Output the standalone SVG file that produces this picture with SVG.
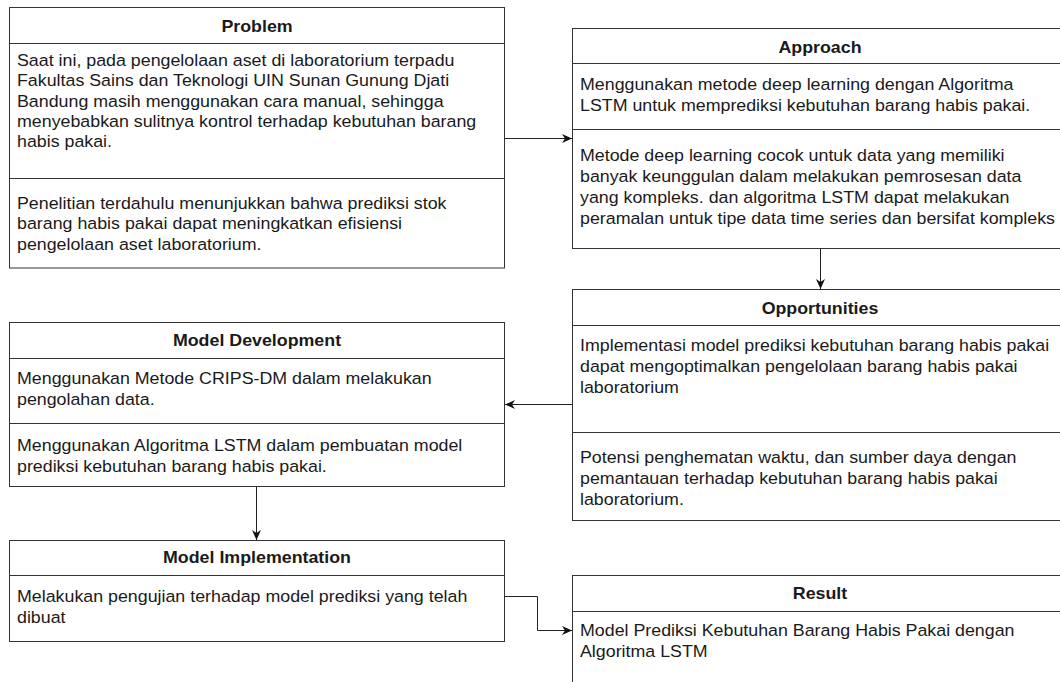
<svg xmlns="http://www.w3.org/2000/svg" width="1060" height="682" viewBox="0 0 1060 682">
<defs>
<style>
.box{fill:#fff;stroke:#333;stroke-width:1}
.div{stroke:#333;stroke-width:1;fill:none}
.t{font-family:"Liberation Sans",Arial,sans-serif;font-size:16.5px;fill:#1a1a1a}
.h{font-family:"Liberation Sans",Arial,sans-serif;font-size:16.5px;font-weight:bold;fill:#1a1a1a;text-anchor:middle}
.c{stroke:#222;stroke-width:1;fill:none;marker-end:url(#arr)}
</style>
<marker id="arr" viewBox="0 0 10 10" refX="10" refY="5" markerWidth="10" markerHeight="10" markerUnits="userSpaceOnUse" orient="auto">
<path d="M0,0.5 L10,5 L0,9.5 L3,5 Z" fill="#111"/>
</marker>
</defs>
<rect width="1060" height="682" fill="#fff"/>

<g id="problem">
<rect class="box" x="9.5" y="7.5" width="495" height="260.5"/>
<path class="div" d="M9.5,43.5H504.5M9.5,178.5H504.5"/>
<g transform="translate(257,0) scale(1.08,1)"><text class="h" x="0" y="32">Problem</text></g>
<g transform="translate(17,0) scale(1.08,1)"><text class="t">
<tspan x="0" y="66">Saat ini, pada pengelolaan aset di laboratorium terpadu</tspan>
<tspan x="0" y="86.3">Fakultas Sains dan Teknologi UIN Sunan Gunung Djati</tspan>
<tspan x="0" y="106.6">Bandung masih menggunakan cara manual, sehingga</tspan>
<tspan x="0" y="127">menyebabkan sulitnya kontrol terhadap kebutuhan barang</tspan>
<tspan x="0" y="147.3">habis pakai.</tspan>
<tspan x="0" y="209">Penelitian terdahulu menunjukkan bahwa prediksi stok</tspan>
<tspan x="0" y="229.3">barang habis pakai dapat meningkatkan efisiensi</tspan>
<tspan x="0" y="249.6">pengelolaan aset laboratorium.</tspan>
</text></g>
</g>

<g id="approach">
<rect class="box" x="572.5" y="28.5" width="495" height="220"/>
<path class="div" d="M572.5,63.5H1067.5M572.5,129.5H1067.5"/>
<g transform="translate(820,0) scale(1.08,1)"><text class="h" x="0" y="53">Approach</text></g>
<g transform="translate(580,0) scale(1.08,1)"><text class="t">
<tspan x="0" y="90">Menggunakan metode deep learning dengan Algoritma</tspan>
<tspan x="0" y="111">LSTM untuk memprediksi kebutuhan barang habis pakai.</tspan>
<tspan x="0" y="161">Metode deep learning cocok untuk data yang memiliki</tspan>
<tspan x="0" y="182">banyak keunggulan dalam melakukan pemrosesan data</tspan>
<tspan x="0" y="203">yang kompleks. dan algoritma LSTM dapat melakukan</tspan>
<tspan x="0" y="224">peramalan untuk tipe data time series dan bersifat kompleks</tspan>
</text></g>
</g>

<g id="opportunities">
<rect class="box" x="572.5" y="289.5" width="495" height="231"/>
<path class="div" d="M572.5,325.5H1067.5M572.5,432.5H1067.5"/>
<g transform="translate(820,0) scale(1.08,1)"><text class="h" x="0" y="314">Opportunities</text></g>
<g transform="translate(580,0) scale(1.08,1)"><text class="t">
<tspan x="0" y="351">Implementasi model prediksi kebutuhan barang habis pakai</tspan>
<tspan x="0" y="372">dapat mengoptimalkan pengelolaan barang habis pakai</tspan>
<tspan x="0" y="393">laboratorium</tspan>
<tspan x="0" y="463">Potensi penghematan waktu, dan sumber daya dengan</tspan>
<tspan x="0" y="484">pemantauan terhadap kebutuhan barang habis pakai</tspan>
<tspan x="0" y="505">laboratorium.</tspan>
</text></g>
</g>

<g id="model-development">
<rect class="box" x="9.5" y="322.5" width="495" height="164"/>
<path class="div" d="M9.5,358.5H504.5M9.5,423.5H504.5"/>
<g transform="translate(257,0) scale(1.08,1)"><text class="h" x="0" y="346">Model Development</text></g>
<g transform="translate(17,0) scale(1.08,1)"><text class="t">
<tspan x="0" y="384">Menggunakan Metode CRIPS-DM dalam melakukan</tspan>
<tspan x="0" y="405">pengolahan data.</tspan>
<tspan x="0" y="451">Menggunakan Algoritma LSTM dalam pembuatan model</tspan>
<tspan x="0" y="472">prediksi kebutuhan barang habis pakai.</tspan>
</text></g>
</g>

<g id="model-implementation">
<rect class="box" x="9.5" y="540.5" width="495" height="101"/>
<path class="div" d="M9.5,575.5H504.5"/>
<g transform="translate(257,0) scale(1.08,1)"><text class="h" x="0" y="563">Model Implementation</text></g>
<g transform="translate(17,0) scale(1.08,1)"><text class="t">
<tspan x="0" y="602">Melakukan pengujian terhadap model prediksi yang telah</tspan>
<tspan x="0" y="623">dibuat</tspan>
</text></g>
</g>

<g id="result">
<rect class="box" x="572.5" y="575.5" width="495" height="130"/>
<path class="div" d="M572.5,611.5H1067.5"/>
<g transform="translate(820,0) scale(1.08,1)"><text class="h" x="0" y="599">Result</text></g>
<g transform="translate(580,0) scale(1.08,1)"><text class="t">
<tspan x="0" y="636">Model Prediksi Kebutuhan Barang Habis Pakai dengan</tspan>
<tspan x="0" y="657">Algoritma LSTM</tspan>
</text></g>
</g>

<g id="connectors">
<path class="c" d="M504.5,138.5H572"/>
<path class="c" d="M820.5,248.5V289"/>
<path class="c" d="M572.5,404.5H505"/>
<path class="c" d="M256.5,486.5V540"/>
<path class="c" d="M504.5,596.5H537.5V630.5H572"/>
</g>
</svg>
